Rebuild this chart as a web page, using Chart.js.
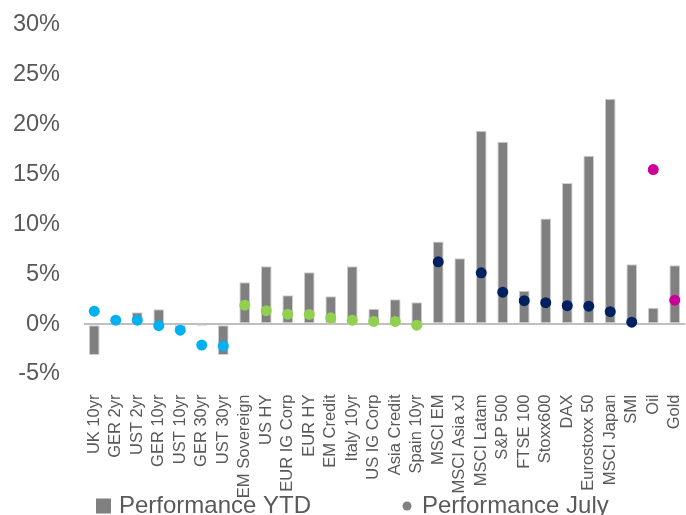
<!DOCTYPE html>
<html>
<head>
<meta charset="utf-8">
<script src="https://cdn.jsdelivr.net/npm/chart.js@4/dist/chart.umd.min.js"></script>
<style>
  html, body { margin: 0; padding: 0; background: #ffffff; overflow: hidden; }
  #wrap { width: 691px; height: 515px; }
</style>
</head>
<body>
<div id="wrap"><canvas id="c" width="691" height="515"></canvas></div>
<script>
// ---- data ----
const categories = ["UK 10yr","GER 2yr","UST 2yr","GER 10yr","UST 10yr","GER 30yr","UST 30yr",
  "EM Sovereign","US HY","EUR IG Corp","EUR HY","EM Credit","Italy 10yr","US IG Corp","Asia Credit","Spain 10yr",
  "MSCI EM","MSCI Asia xJ","MSCI Latam","S&P 500","FTSE 100","Stoxx600","DAX","Eurostoxx 50","MSCI Japan","SMI",
  "Oil","Gold"];
const performanceYTD = [-3.1, 0.2, 1.2, 1.5, -0.4, -0.2, -3.1,
  4.2, 5.8, 2.9, 5.2, 2.8, 5.8, 1.55, 2.5, 2.2,
  8.3, 6.6, 19.4, 18.3, 3.35, 10.6, 14.15, 16.9, 22.6, 6.0,
  1.65, 5.9];
const performanceJuly = [1.3, 0.4, 0.4, -0.15, -0.6, -2.1, -2.2,
  1.9, 1.35, 1.0, 0.97, 0.63, 0.4, 0.27, 0.27, -0.1,
  6.25, null, 5.15, 3.2, 2.35, 2.15, 1.85, 1.8, 1.25, 0.2,
  15.5, 2.4];
const assetGroup = ["rates","rates","rates","rates","rates","rates","rates",
  "credit","credit","credit","credit","credit","credit","credit","credit","credit",
  "equity","equity","equity","equity","equity","equity","equity","equity","equity","equity",
  "commodity","commodity"];
const yTicks = [-5, 0, 5, 10, 15, 20, 25, 30];
const seriesNames = ["Performance YTD", "Performance July"];

// ---- styles ----
const groupColors = { rates: "#00B0F0", credit: "#92D050", equity: "#002060", commodity: "#CC0099" };
const barColor = "#808080";
const textColor = "#595959";
const fontFamily = "'Liberation Sans', Arial, sans-serif";

const legendPlugin = {
  id: "customLegend",
  afterDraw(chart) {
    const ctx = chart.ctx;
    const cy = chart.height - 9;
    ctx.save();
    ctx.font = "24px " + fontFamily;
    ctx.textBaseline = "middle";
    ctx.textAlign = "left";
    const x1 = 96;
    ctx.fillStyle = barColor;
    ctx.fillRect(x1, cy - 7.5, 15, 15);
    ctx.fillStyle = textColor;
    ctx.fillText(seriesNames[0], x1 + 23, cy);
    const x2 = 407;
    ctx.fillStyle = barColor;
    ctx.beginPath();
    ctx.arc(x2, cy, 4.5, 0, Math.PI * 2);
    ctx.fill();
    ctx.fillStyle = textColor;
    ctx.fillText(seriesNames[1], x2 + 15, cy);
    ctx.restore();
  }
};

new Chart(document.getElementById("c"), {
  data: {
    labels: categories,
    datasets: [
      {
        type: "line",
        label: seriesNames[1],
        data: performanceJuly,
        showLine: false,
        pointRadius: 5.5,
        pointHoverRadius: 5.5,
        pointBorderWidth: 0,
        pointBackgroundColor: assetGroup.map(g => groupColors[g]),
        pointBorderColor: assetGroup.map(g => groupColors[g]),
        order: 0
      },
      {
        type: "bar",
        label: seriesNames[0],
        data: performanceYTD,
        backgroundColor: barColor,
        borderColor: "#d0d0d0",
        borderWidth: 1,
        borderSkipped: false,
        categoryPercentage: 1.0,
        barPercentage: 0.5,
        order: 1
      }
    ]
  },
  options: {
    responsive: false,
    animation: false,
    devicePixelRatio: 1,
    layout: { padding: { left: 14, right: 0, top: 25, bottom: 0 } },
    plugins: { legend: { display: false }, tooltip: { enabled: false } },
    scales: {
      x: {
        grid: { display: false },
        border: { display: false },
        afterFit(scale) { scale.paddingLeft = 0; scale.paddingRight = 0; scale.height = 141; },
        ticks: {
          color: textColor,
          font: { family: fontFamily, size: 16.5 },
          maxRotation: 90, minRotation: 90,
          padding: 12.5,
          autoSkip: false
        }
      },
      y: {
        min: yTicks[0],
        max: yTicks[yTicks.length - 1],
        afterBuildTicks(scale) { scale.ticks = yTicks.map(v => ({ value: v })); },
        afterFit(scale) { scale.paddingTop = 0; scale.paddingBottom = 0; scale.width = 69.5; },
        border: { display: false },
        grid: {
          drawTicks: false,
          lineWidth: 2,
          color: c => (c.tick && c.tick.value === 0) ? "#bfbfbf" : "rgba(0,0,0,0)"
        },
        ticks: {
          color: textColor,
          font: { family: fontFamily, size: 23.5 },
          padding: 23.5,
          callback: v => v + "%"
        }
      }
    }
  },
  plugins: [legendPlugin]
});
</script>
</body>
</html>
